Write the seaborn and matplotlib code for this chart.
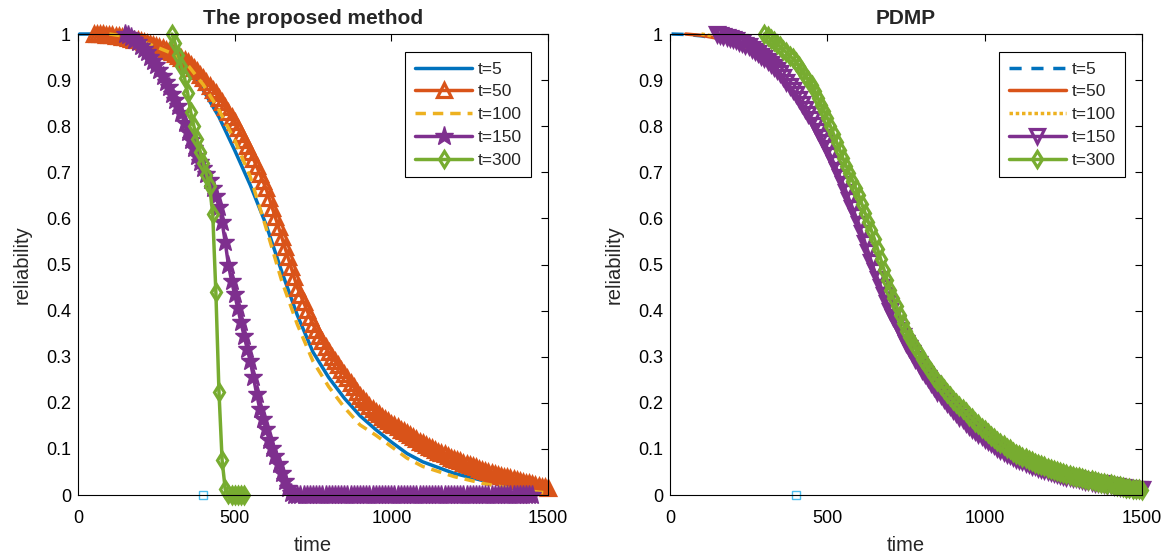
import matplotlib
matplotlib.use("Agg")
import matplotlib.pyplot as plt
import seaborn as sns

# MATLAB default colour order
BLUE = "#0072BD"
ORANGE = "#D95319"
YELLOW = "#EDB120"
PURPLE = "#7E2F8E"
GREEN = "#77AC30"
CYAN = "#4DBEEE"

STEP = 10  # sampling step of the marked series

# -------------------------------
# Data: the proposed method
# -------------------------------
prop_t5_time = [5, 50, 100, 150, 200, 250, 300, 350, 400, 450, 500, 550, 600, 650,
                700, 750, 800, 850, 900, 950, 1000, 1050, 1100, 1200, 1300, 1400, 1500]
prop_t5_rel = [1.0, 1.0, 0.995, 0.99, 0.98, 0.968, 0.952, 0.925, 0.878, 0.82, 0.748,
               0.672, 0.587, 0.485, 0.39, 0.31, 0.255, 0.21, 0.172, 0.142, 0.115,
               0.09, 0.072, 0.047, 0.03, 0.018, 0.01]

prop_t50_start, prop_t50_end = 50, 1500
prop_t50_rel = [
    1.000, 1.000, 0.999, 0.999, 0.998, 0.998,
    0.997, 0.996, 0.995, 0.994, 0.993,
    0.991, 0.990, 0.988, 0.987, 0.985,
    0.983, 0.981, 0.979, 0.977, 0.975,
    0.972, 0.969, 0.966, 0.963, 0.960,
    0.956, 0.952, 0.948, 0.944, 0.940,
    0.933, 0.926, 0.919, 0.912, 0.905,
    0.896, 0.888, 0.879, 0.871, 0.862,
    0.852, 0.841, 0.831, 0.820, 0.810,
    0.797, 0.784, 0.771, 0.758, 0.745,
    0.729, 0.713, 0.697, 0.681, 0.665,
    0.644, 0.623, 0.602, 0.581, 0.560,
    0.538, 0.516, 0.494, 0.472, 0.450,
    0.434, 0.418, 0.402, 0.386, 0.370,
    0.358, 0.346, 0.334, 0.322, 0.310,
    0.300, 0.291, 0.281, 0.272, 0.262,
    0.253, 0.243, 0.234, 0.224, 0.215,
    0.208, 0.201, 0.194, 0.187, 0.180,
    0.175, 0.170, 0.165, 0.160, 0.155,
    0.151, 0.147, 0.142, 0.138, 0.134,
    0.130, 0.125, 0.121, 0.116, 0.112,
    0.108, 0.105, 0.101, 0.098, 0.094,
    0.091, 0.088, 0.084, 0.081, 0.078,
    0.075, 0.073, 0.070, 0.068, 0.065,
    0.062, 0.060, 0.057, 0.055, 0.052,
    0.050, 0.048, 0.046, 0.044, 0.042,
    0.040, 0.038, 0.036, 0.034, 0.032,
    0.030, 0.028, 0.027, 0.025, 0.023,
    0.021, 0.020, 0.018, 0.017, 0.015,
]

prop_t100_time = [100, 150, 200, 250, 300, 350, 400, 450, 500, 550, 600, 650, 700,
                  750, 800, 850, 900, 950, 1000, 1050, 1100, 1200, 1300, 1400, 1500]
prop_t100_rel = [1.0, 0.995, 0.985, 0.972, 0.958, 0.933, 0.89, 0.835, 0.77, 0.69,
                 0.58, 0.465, 0.37, 0.29, 0.235, 0.19, 0.152, 0.13, 0.105, 0.08,
                 0.062, 0.04, 0.024, 0.012, 0.004]

prop_t150_start, prop_t150_end = 150, 1450
prop_t150_rel = [
    1.000, 0.997, 0.993, 0.988, 0.982, 0.975,
    0.968, 0.960, 0.951, 0.942, 0.932,
    0.921, 0.909, 0.897, 0.884, 0.870,
    0.857, 0.843, 0.828, 0.808, 0.788,
    0.770, 0.752, 0.735, 0.722, 0.710,
    0.697, 0.684, 0.666, 0.648, 0.625,
    0.592, 0.548, 0.500, 0.465, 0.435,
    0.405, 0.375, 0.345, 0.317, 0.290,
    0.255, 0.220, 0.187, 0.165, 0.143,
    0.120, 0.102, 0.085, 0.067, 0.048,
    0.030, 0.015, 0.005, 0.001, 0.000,
    0.0, 0.0, 0.0, 0.0, 0.0, 0.0, 0.0, 0.0, 0.0, 0.0,
    0.0, 0.0, 0.0, 0.0, 0.0, 0.0, 0.0, 0.0, 0.0, 0.0,
    0.0, 0.0, 0.0, 0.0, 0.0, 0.0, 0.0, 0.0, 0.0, 0.0,
    0.0, 0.0, 0.0, 0.0, 0.0, 0.0, 0.0, 0.0, 0.0, 0.0,
    0.0, 0.0, 0.0, 0.0, 0.0, 0.0, 0.0, 0.0, 0.0, 0.0,
    0.0, 0.0, 0.0, 0.0, 0.0, 0.0, 0.0, 0.0, 0.0, 0.0,
    0.0, 0.0, 0.0, 0.0, 0.0, 0.0, 0.0, 0.0, 0.0, 0.0,
    0.0, 0.0, 0.0, 0.0, 0.0,
]

prop_t300_start, prop_t300_end = 300, 530
prop_t300_rel = [1.000, 0.980, 0.955, 0.930, 0.905, 0.872, 0.830, 0.800, 0.772, 0.745,
                 0.720, 0.695, 0.670, 0.610, 0.440, 0.223, 0.075, 0.012, 0.002, 0.000,
                 0.000, 0.000, 0.000, 0.000]

# -------------------------------
# Data: PDMP
# -------------------------------
pdmp_t5_time = [5, 50, 100, 150, 200, 250, 300, 350, 400, 450, 500, 550, 600, 650,
                700, 750, 800, 850, 900, 950, 1000, 1100, 1200, 1300, 1400, 1500]
pdmp_t5_rel = [1.0, 0.999, 0.996, 0.99, 0.981, 0.964, 0.939, 0.906, 0.862, 0.807,
               0.744, 0.668, 0.582, 0.481, 0.396, 0.327, 0.269, 0.222, 0.182, 0.148,
               0.121, 0.078, 0.051, 0.033, 0.021, 0.012]

pdmp_t50_time = [50, 100, 150, 200, 250, 300, 350, 400, 450, 500, 550, 600, 650,
                 700, 750, 800, 850, 900, 950, 1000, 1100, 1200, 1300, 1400, 1500]
pdmp_t50_rel = [1.0, 0.997, 0.991, 0.982, 0.965, 0.94, 0.907, 0.863, 0.808, 0.745,
                0.669, 0.583, 0.482, 0.397, 0.328, 0.27, 0.223, 0.183, 0.149, 0.122,
                0.079, 0.052, 0.034, 0.021, 0.012]

pdmp_t100_time = [100, 150, 200, 250, 300, 350, 400, 450, 500, 550, 600, 650,
                  700, 750, 800, 850, 900, 950, 1000, 1100, 1200, 1300, 1400, 1500]
pdmp_t100_rel = [1.0, 0.994, 0.985, 0.968, 0.943, 0.909, 0.865, 0.81, 0.747, 0.671,
                 0.585, 0.484, 0.398, 0.329, 0.271, 0.223, 0.183, 0.149, 0.122,
                 0.079, 0.052, 0.034, 0.021, 0.012]

pdmp_t150_start, pdmp_t150_end = 150, 1500
pdmp_t150_rel = [
    1.000, 0.998, 0.996, 0.994, 0.992, 0.990,
    0.987, 0.983, 0.980, 0.976, 0.973,
    0.968, 0.963, 0.958, 0.953, 0.948,
    0.941, 0.935, 0.928, 0.922, 0.915,
    0.906, 0.897, 0.888, 0.879, 0.870,
    0.859, 0.848, 0.837, 0.826, 0.815,
    0.802, 0.790, 0.777, 0.765, 0.752,
    0.737, 0.721, 0.706, 0.690, 0.675,
    0.658, 0.640, 0.623, 0.605, 0.588,
    0.568, 0.547, 0.527, 0.506, 0.486,
    0.469, 0.452, 0.434, 0.417, 0.400,
    0.386, 0.372, 0.358, 0.344, 0.330,
    0.318, 0.307, 0.295, 0.284, 0.272,
    0.262, 0.253, 0.243, 0.234, 0.224,
    0.216, 0.208, 0.200, 0.192, 0.184,
    0.177, 0.170, 0.164, 0.157, 0.150,
    0.144, 0.139, 0.133, 0.128, 0.122,
    0.117, 0.112, 0.108, 0.103, 0.098,
    0.094, 0.090, 0.087, 0.083, 0.079,
    0.076, 0.073, 0.070, 0.067, 0.064,
    0.062, 0.059, 0.057, 0.054, 0.052,
    0.050, 0.048, 0.046, 0.044, 0.042,
    0.040, 0.039, 0.037, 0.036, 0.034,
    0.033, 0.031, 0.030, 0.028, 0.027,
    0.026, 0.025, 0.023, 0.022, 0.021,
    0.020, 0.019, 0.018, 0.017, 0.016,
    0.015, 0.014, 0.014, 0.013, 0.012,
]

pdmp_t300_start, pdmp_t300_end = 300, 1500
pdmp_t300_rel = [
    1.000, 0.995, 0.989, 0.984, 0.978, 0.973,
    0.966, 0.960, 0.953, 0.947, 0.940,
    0.930, 0.920, 0.910, 0.900, 0.890,
    0.876, 0.861, 0.847, 0.832, 0.818,
    0.800, 0.783, 0.765, 0.748, 0.730,
    0.714, 0.698, 0.682, 0.666, 0.650,
    0.631, 0.612, 0.593, 0.574, 0.555,
    0.533, 0.511, 0.489, 0.467, 0.445,
    0.427, 0.409, 0.391, 0.373, 0.355,
    0.343, 0.331, 0.320, 0.308, 0.296,
    0.286, 0.276, 0.267, 0.257, 0.247,
    0.239, 0.231, 0.222, 0.214, 0.206,
    0.199, 0.192, 0.186, 0.179, 0.172,
    0.166, 0.159, 0.153, 0.146, 0.140,
    0.134, 0.129, 0.123, 0.118, 0.112,
    0.108, 0.103, 0.099, 0.094, 0.090,
    0.087, 0.083, 0.080, 0.076, 0.073,
    0.070, 0.067, 0.065, 0.062, 0.059,
    0.057, 0.055, 0.052, 0.050, 0.048,
    0.046, 0.044, 0.042, 0.040, 0.038,
    0.036, 0.035, 0.033, 0.032, 0.030,
    0.029, 0.027, 0.026, 0.024, 0.023,
    0.022, 0.020, 0.019, 0.017, 0.016,
    0.015, 0.014, 0.013, 0.012, 0.011,
]

# the stray square point that shows up in both panels
extra_time = [400]
extra_rel = [0.0]

labels = ["t=5", "t=50", "t=100", "t=150", "t=300"]
x_ticks = [0, 500, 1000, 1500]
y_ticks = [0, 0.1, 0.2, 0.3, 0.4, 0.5, 0.6, 0.7, 0.8, 0.9, 1]
y_tick_labels = ["0", "0.1", "0.2", "0.3", "0.4", "0.5", "0.6", "0.7", "0.8", "0.9", "1"]


def grid(start, end):
    return list(range(start, end + 1, STEP))


def draw(ax, time, rel, color, label=None, **kws):
    sns.lineplot(x=time, y=rel, ax=ax, color=color, label=label, sort=False,
                 estimator=None, errorbar=None, clip_on=False, **kws)


def open_marker(marker, color, size):
    return dict(marker=marker, markersize=size, markerfacecolor="none",
                markeredgecolor=color, markeredgewidth=2.3)


def style_axes(ax, title):
    ax.set_xlim(0, 1500)
    ax.set_ylim(0, 1)
    ax.set_xticks(x_ticks)
    ax.set_xticklabels([str(v) for v in x_ticks])
    ax.set_yticks(y_ticks)
    ax.set_yticklabels(y_tick_labels)
    ax.tick_params(direction="in", top=True, right=True, length=5, width=0.8,
                   labelsize=13, colors="black")
    ax.tick_params(axis="x", pad=11)
    ax.tick_params(axis="y", pad=5)
    for s in ax.spines.values():
        s.set_color("black")
        s.set_linewidth(0.8)
    ax.set_xlabel("time", fontsize=14.5, labelpad=6)
    ax.set_ylabel("reliability", fontsize=14.5, labelpad=10)
    ax.set_title(title, fontsize=15, fontweight="bold", pad=7)
    leg = ax.legend(loc="upper right", bbox_to_anchor=(0.964, 0.961), fontsize=12.5,
                    frameon=True, fancybox=False, edgecolor="black", framealpha=1,
                    borderaxespad=0, handlelength=3.3, labelspacing=0.44,
                    handletextpad=0.3, borderpad=0.55)
    leg.get_frame().set_linewidth(0.8)


# -------------------------------
# Left panel
# -------------------------------
def plot_proposed(ax):
    draw(ax, prop_t5_time, prop_t5_rel, BLUE, labels[0], linewidth=2.5)
    draw(ax, grid(prop_t50_start, prop_t50_end), prop_t50_rel, ORANGE, labels[1],
         linewidth=2.5, **open_marker("^", ORANGE, 10.5))
    draw(ax, prop_t100_time, prop_t100_rel, YELLOW, labels[2], linewidth=2.5,
         linestyle=(0, (3, 2)))
    draw(ax, grid(prop_t150_start, prop_t150_end), prop_t150_rel, PURPLE, labels[3],
         linewidth=2.5, marker="*", markersize=14, markerfacecolor=PURPLE,
         markeredgecolor=PURPLE, markeredgewidth=1)
    draw(ax, grid(prop_t300_start, prop_t300_end), prop_t300_rel, GREEN, labels[4],
         linewidth=2.5, **open_marker("d", GREEN, 8.5))
    draw(ax, extra_time, extra_rel, CYAN, None, linestyle="none",
         marker="s", markersize=6, markerfacecolor="none", markeredgecolor=CYAN,
         markeredgewidth=1)
    style_axes(ax, "The proposed method")


# -------------------------------
# Right panel
# -------------------------------
def plot_pdmp(ax):
    draw(ax, pdmp_t5_time, pdmp_t5_rel, BLUE, labels[0], linewidth=2.5,
         linestyle=(0, (3.5, 2.8)))
    draw(ax, pdmp_t50_time, pdmp_t50_rel, ORANGE, labels[1], linewidth=2.5)
    draw(ax, pdmp_t100_time, pdmp_t100_rel, YELLOW, labels[2], linewidth=2.5,
         linestyle=(0, (1, 0.8)))
    draw(ax, grid(pdmp_t150_start, pdmp_t150_end), pdmp_t150_rel, PURPLE, labels[3],
         linewidth=2.5, **open_marker("v", PURPLE, 10.5))
    draw(ax, grid(pdmp_t300_start, pdmp_t300_end), pdmp_t300_rel, GREEN, labels[4],
         linewidth=2.5, **open_marker("d", GREEN, 8.5))
    draw(ax, extra_time, extra_rel, CYAN, None, linestyle="none",
         marker="s", markersize=6, markerfacecolor="none", markeredgecolor=CYAN,
         markeredgewidth=1)
    style_axes(ax, "PDMP")


if __name__ == "__main__":
    sns.set_theme(style="white")
    plt.rcParams["font.family"] = ["Liberation Sans", "DejaVu Sans"]

    fig = plt.figure(figsize=(11.69, 5.55), dpi=100)
    ax1 = fig.add_axes([0.0667, 0.1081, 0.4021, 0.8306])
    ax2 = fig.add_axes([0.5731, 0.1081, 0.4038, 0.8306])

    plot_proposed(ax1)
    plot_pdmp(ax2)

    fig.savefig("out.png", dpi=100)
